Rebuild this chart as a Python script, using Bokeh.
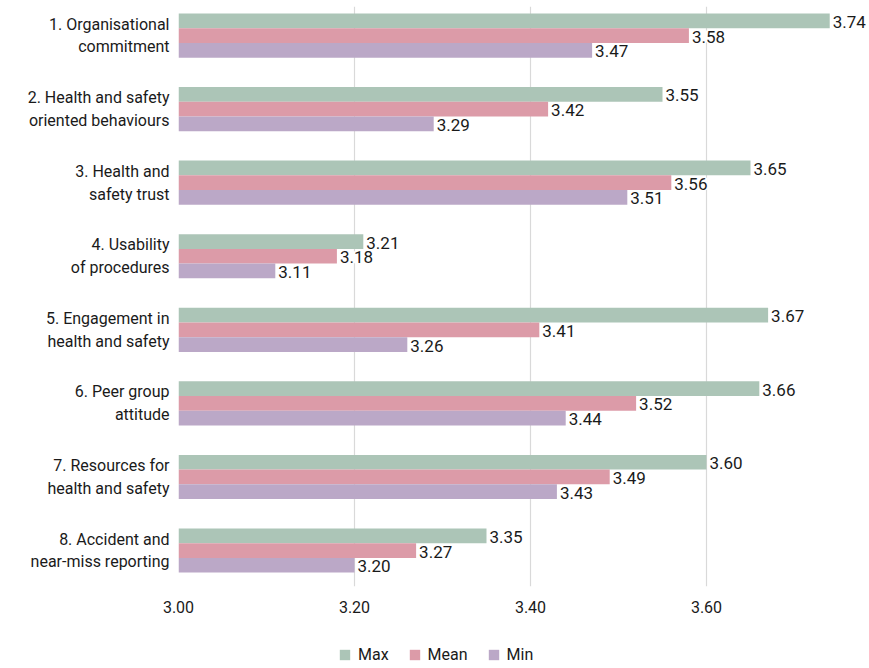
from bokeh.plotting import figure
from bokeh.layouts import column
from bokeh.models import ColumnDataSource, Range1d, LabelSet, Legend, LegendItem
from bokeh.core.properties import value
from bokeh.embed import file_html
from bokeh.resources import INLINE

categories = [
    "1. Organisational\ncommitment",
    "2. Health and safety\noriented behaviours",
    "3. Health and\nsafety trust",
    "4. Usability\nof procedures",
    "5. Engagement in\nhealth and safety",
    "6. Peer group\nattitude",
    "7. Resources for\nhealth and safety",
    "8. Accident and\nnear-miss reporting",
]
max_vals = [3.74, 3.55, 3.65, 3.21, 3.67, 3.66, 3.60, 3.35]
mean_vals = [3.58, 3.42, 3.56, 3.18, 3.41, 3.52, 3.49, 3.27]
min_vals = [3.47, 3.29, 3.51, 3.11, 3.26, 3.44, 3.43, 3.20]
series_names = ["Max", "Mean", "Min"]
series_colors = ["#acc5b7", "#dc9ba8", "#bba8c7"]
x_ticks = [3.0, 3.2, 3.4, 3.6]
x_tick_labels = ["3.00", "3.20", "3.40", "3.60"]

FONT = "Roboto"
TEXT = "#1a1a1a"

p = figure(frame_width=688, frame_height=580, output_backend="svg", toolbar_location=None,
           x_range=Range1d(3.0, 3.7818), y_range=Range1d(7.489, -0.395),
           min_border_left=178, min_border_top=6, min_border_right=0,
           min_border_bottom=56)
p.outline_line_color = None
p.background_fill_color = "white"
p.border_fill_color = "white"

p.ygrid.grid_line_color = None
p.xgrid.grid_line_color = "#d9d9d9"
p.xgrid.grid_line_width = 1.2
p.xgrid.ticker = x_ticks

for s, (name, vals, color) in enumerate(zip(series_names, [max_vals, mean_vals, min_vals], series_colors)):
    off = (s - 1) * 0.2
    src = ColumnDataSource(dict(
        y=[i + off for i in range(len(categories))],
        right=vals,
        label=["%.2f" % v for v in vals],
    ))
    p.hbar(y="y", left=3.0, right="right", height=0.2, source=src,
           fill_color=color, line_color=None)
    lbl = LabelSet(x="right", y="y", text="label", source=src, x_offset=3, y_offset=-1,
                   text_baseline="middle", text_align="left", text_font=value(FONT),
                   text_font_size=value("17px"), text_color=TEXT,
                   background_fill_color="white", level="underlay")
    p.add_layout(lbl)

xa = p.xaxis[0]
xa.ticker = x_ticks
xa.major_label_overrides = {t: l for t, l in zip(x_ticks, x_tick_labels)}
xa.axis_line_color = None
xa.major_tick_line_color = None
xa.minor_tick_line_color = None
xa.major_label_standoff = 8
xa.major_label_text_font = FONT
xa.major_label_text_font_size = "16px"
xa.major_label_text_color = TEXT

ya = p.yaxis[0]
ya.ticker = list(range(len(categories)))
ya.major_label_overrides = {i: c for i, c in enumerate(categories)}
ya.axis_line_color = None
ya.major_tick_line_color = None
ya.minor_tick_line_color = None
ya.major_label_standoff = 3
ya.major_label_text_font = FONT
ya.major_label_text_font_size = "16px"
ya.major_label_text_color = TEXT
ya.major_label_text_align = "right"

# legend strip below the chart (legend proxies sit outside the visible range)
pl = figure(width=866, height=24, output_backend="svg", toolbar_location=None,
            x_range=Range1d(0, 1), y_range=Range1d(0, 1),
            min_border=0, min_border_left=0, min_border_right=0,
            min_border_top=0, min_border_bottom=0)
pl.axis.visible = False
pl.grid.visible = False
pl.outline_line_color = None
pl.background_fill_color = "white"
pl.border_fill_color = "white"
items = []
for name, color in zip(series_names, series_colors):
    r = pl.hbar(y=[-10], left=[0], right=[1], height=0.2, fill_color=color, line_color=None)
    items.append(LegendItem(label=name, renderers=[r]))
legend = Legend(items=items, orientation="horizontal", location=(160, 2),
                border_line_color=None, background_fill_alpha=0,
                glyph_width=13, glyph_height=13, label_standoff=7, spacing=19,
                label_text_font=FONT, label_text_font_size="16px", label_text_color=TEXT,
                padding=0, margin=0)
pl.add_layout(legend, "center")

layout = column(p, pl, spacing=0)
open("out.html", "w").write(file_html(layout, INLINE))
